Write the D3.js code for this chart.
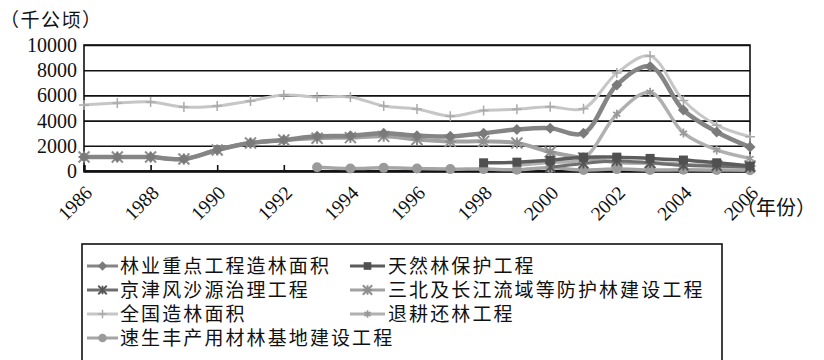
<!DOCTYPE html>
<html>
<head>
<meta charset="utf-8">
<script src="https://cdn.jsdelivr.net/npm/d3@7"></script>
<style>
  html, body { margin: 0; padding: 0; background: #fff; }
  svg { display: block; }
</style>
</head>
<body>
<svg id="chart" width="824" height="360"></svg>
<script>
// Afforestation area by programme, 1986-2006 (thousand hectares)
const years = d3.range(1986, 2007);
const yTicks = [0, 2000, 4000, 6000, 8000, 10000];
const xTicks = [1986, 1988, 1990, 1992, 1994, 1996, 1998, 2000, 2002, 2004, 2006];

const seriesNames = [
  "林业重点工程造林面积", "天然林保护工程",
  "京津风沙源治理工程", "三北及长江流域等防护林建设工程",
  "全国造林面积", "退耕还林工程",
  "速生丰产用材林基地建设工程"
];

const keyProjects   = [1110, 1110, 1110, 950, 1670, 2220, 2460, 2750, 2800, 3000, 2800, 2750, 3000, 3300, 3400, 3000, 6830, 8300, 4840, 3100, 1900];
const naturalForest = [null, null, null, null, null, null, null, null, null, null, null, null, 650, 700, 850, 1100, 1100, 1000, 870, 650, 400];
const sandSource    = [null, null, null, null, null, null, null, null, null, null, null, null, null, null, 300, 600, 800, 650, 450, 400, 300];
const shelterbelt   = [1110, 1110, 1110, 950, 1670, 2220, 2460, 2600, 2650, 2750, 2500, 2350, 2350, 2220, 1510, 1030, 700, 650, 500, 400, 400];
const nationalTotal = [5240, 5400, 5480, 5080, 5160, 5560, 6030, 5880, 5880, 5160, 4920, 4355, 4800, 4900, 5100, 4950, 7770, 9120, 5600, 3640, 2720];
const grainForGreen = [null, null, null, null, null, null, null, null, null, null, null, null, null, 450, 700, 1000, 4500, 6250, 3020, 1670, 1000];
const fastGrowing   = [null, null, null, null, null, null, null, 300, 200, 250, 200, 150, 150, 100, 250, 80, 150, 80, 100, 80, 60];

const seriesValues = [keyProjects, naturalForest, sandSource, shelterbelt, nationalTotal, grainForGreen, fastGrowing];

// visual style per series (same order as seriesNames)
const styles = [
  { color: "#858585", width: 4.5, marker: "diamond",  mcolor: "#7a7a7a", msize: 5.5 },
  { color: "#5c5c5c", width: 3.5, marker: "square",   mcolor: "#505050", msize: 4.5 },
  { color: "#6e6e6e", width: 3,   marker: "cross",    mcolor: "#555",    msize: 5 },
  { color: "#a2a2a2", width: 4,   marker: "asterisk", mcolor: "#8f8f8f", msize: 5.5 },
  { color: "#c6c6c6", width: 3,   marker: "plus",     mcolor: "#aaa",    msize: 5 },
  { color: "#b0b0b0", width: 3.5, marker: "star",     mcolor: "#999",    msize: 4.5 },
  { color: "#a5a5a5", width: 3.5, marker: "circle",   mcolor: "#9a9a9a", msize: 5 }
];
const drawOrder = [4, 3, 5, 6, 2, 1, 0];

// Latin metrics first keeps the line box compact; CJK glyphs fall back to Noto
const cjkFont = "'Liberation Serif', 'Noto Sans CJK SC', sans-serif";

const svg = d3.select("#chart");
const plot = { left: 84, right: 750, top: 45, bottom: 171 };

const x = d3.scaleLinear().domain([1986, 2006]).range([plot.left, plot.right]);
const y = d3.scaleLinear().domain([0, 10000]).range([plot.bottom, plot.top]);

// gridlines
svg.append("g")
  .attr("transform", `translate(${plot.left},0)`)
  .call(d3.axisLeft(y).tickValues(yTicks).tickSize(-(plot.right - plot.left)).tickFormat(""))
  .call(g => g.select(".domain").remove())
  .call(g => g.selectAll(".tick line").attr("stroke", "#111").attr("stroke-width", 1.6));

// y-axis labels
svg.append("g")
  .attr("transform", `translate(${plot.left},0)`)
  .call(d3.axisLeft(y).tickValues(yTicks).tickSize(0).tickPadding(7).tickFormat(d3.format("d")))
  .call(g => g.select(".domain").remove())
  .call(g => g.selectAll("text")
    .attr("font-family", "'Liberation Serif', 'DejaVu Serif', serif")
    .attr("font-size", 20).attr("fill", "#111"));

// plot frame
svg.append("rect")
  .attr("x", plot.left).attr("y", plot.top)
  .attr("width", plot.right - plot.left).attr("height", plot.bottom - plot.top)
  .attr("fill", "none").attr("stroke", "#111").attr("stroke-width", 1.6);

// x axis with inward tick marks and slanted year labels
svg.append("g")
  .attr("transform", `translate(0,${plot.bottom})`)
  .call(d3.axisBottom(x).tickValues(xTicks).tickSize(-6).tickFormat(d3.format("d")))
  .call(g => g.select(".domain").attr("stroke", "#111").attr("stroke-width", 2.4))
  .call(g => g.selectAll(".tick line").attr("stroke", "#111").attr("stroke-width", 1.6))
  .call(g => g.selectAll("text")
    .attr("font-family", "'Liberation Serif', 'DejaVu Serif', serif")
    .attr("font-size", 19.5).attr("fill", "#111")
    .attr("text-anchor", "end")
    .attr("x", 9).attr("y", 23).attr("dy", 0)
    .attr("transform", "rotate(-45, 9, 23)"));

// axis unit captions
svg.append("text")
  .attr("x", 0).attr("y", 27)
  .attr("font-family", cjkFont)
  .attr("font-size", 19).attr("letter-spacing", 1.5).attr("fill", "#111")
  .text("（千公顷）");
svg.append("text")
  .attr("x", 736).attr("y", 215)
  .attr("font-family", cjkFont)
  .attr("font-size", 20).attr("fill", "#111")
  .text("（年份）");

// marker shapes
function drawMarker(sel, type, s, color) {
  if (type === "diamond") {
    sel.append("path").attr("d", `M0,${-s}L${s},0L0,${s}L${-s},0Z`).attr("fill", color);
  } else if (type === "square") {
    sel.append("rect").attr("x", -s).attr("y", -s).attr("width", 2 * s).attr("height", 2 * s).attr("fill", color);
  } else if (type === "circle") {
    sel.append("circle").attr("r", s).attr("fill", color);
  } else if (type === "cross") {
    sel.append("path").attr("d", `M${-s},${-s}L${s},${s}M${-s},${s}L${s},${-s}M0,${-s}L0,${s}`)
      .attr("stroke", color).attr("stroke-width", 1.8).attr("fill", "none");
  } else if (type === "asterisk") {
    sel.append("path").attr("d", `M0,${-s}L0,${s}M${-s},${-s}L${s},${s}M${-s},${s}L${s},${-s}M${-s},0L${s},0`)
      .attr("stroke", color).attr("stroke-width", 2).attr("fill", "none");
  } else if (type === "plus") {
    sel.append("path").attr("d", `M0,${-s}L0,${s}M${-s},0L${s},0`)
      .attr("stroke", color).attr("stroke-width", 1.5).attr("fill", "none");
  } else if (type === "star") {
    sel.append("path").attr("d", `M0,${-s}L0,${s}M${-s * 0.8},${-s * 0.5}L${s * 0.8},${s * 0.5}M${-s * 0.8},${s * 0.5}L${s * 0.8},${-s * 0.5}`)
      .attr("stroke", color).attr("stroke-width", 1.8).attr("fill", "none");
  }
}

const line = d3.line()
  .defined(d => d.v !== null)
  .x(d => x(d.year))
  .y(d => y(d.v))
  .curve(d3.curveCatmullRom.alpha(0.5));

const seriesLayer = svg.append("g");
drawOrder.forEach(i => {
  const st = styles[i];
  const pts = years.map((yr, k) => ({ year: yr, v: seriesValues[i][k] }));
  const g = seriesLayer.append("g");
  g.append("path")
    .attr("d", line(pts))
    .attr("fill", "none")
    .attr("stroke", st.color)
    .attr("stroke-width", st.width)
    .attr("stroke-linejoin", "round")
    .attr("stroke-linecap", "round");
  pts.filter(d => d.v !== null).forEach(d => {
    const m = g.append("g").attr("transform", `translate(${x(d.year)},${y(d.v)})`);
    drawMarker(m, st.marker, st.msize, st.mcolor);
  });
});

// legend
const legend = svg.append("g");
legend.append("rect")
  .attr("x", 82).attr("y", 244).attr("width", 640).attr("height", 140)
  .attr("fill", "none").attr("stroke", "#111").attr("stroke-width", 1.6);

const rowY = [266, 290, 314, 338];
const cols = [{ x0: 87, x1: 118, tx: 120 }, { x0: 350, x1: 385, tx: 388 }];
seriesNames.forEach((name, i) => {
  const r = Math.floor(i / 2), c = i % 2;
  const st = styles[i];
  const cy = rowY[r], col = cols[c];
  const item = legend.append("g");
  item.append("line")
    .attr("x1", col.x0).attr("x2", col.x1).attr("y1", cy).attr("y2", cy)
    .attr("stroke", st.color).attr("stroke-width", 3);
  const m = item.append("g").attr("transform", `translate(${(col.x0 + col.x1) / 2},${cy})`);
  drawMarker(m, st.marker, st.msize * 0.85, st.mcolor);
  item.append("text")
    .attr("x", col.tx).attr("y", cy).attr("dy", "0.36em")
    .attr("font-family", cjkFont)
    .attr("font-size", 19).attr("letter-spacing", 2.1).attr("fill", "#111")
    .text(name);
});
</script>
</body>
</html>
